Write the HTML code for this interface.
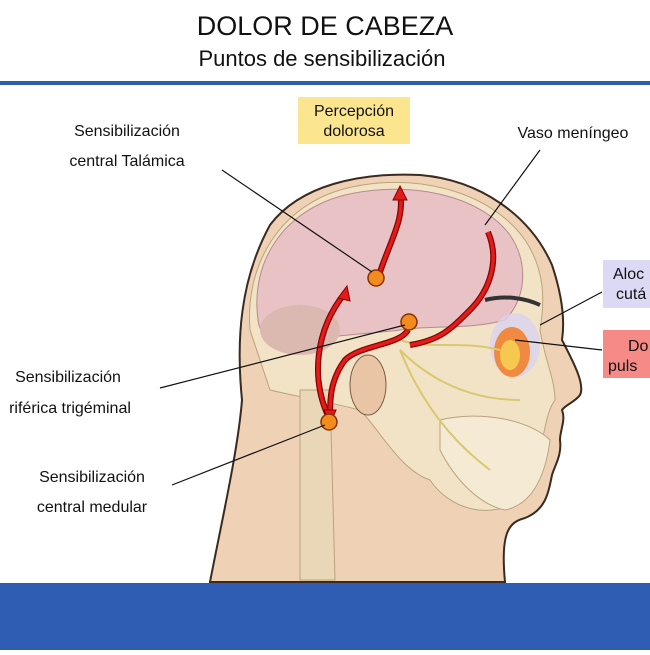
<!DOCTYPE html>
<html><head><meta charset="utf-8"><style>
body{margin:0;width:650px;height:650px;background:#fff;overflow:hidden;font-family:"Liberation Sans",sans-serif}
</style></head><body>
<svg width="650" height="650" viewBox="0 0 650 650" xmlns="http://www.w3.org/2000/svg" font-family="Liberation Sans, sans-serif">
<text x="325" y="35" text-anchor="middle" font-size="27" fill="#111">DOLOR DE CABEZA</text>
<text x="322" y="66" text-anchor="middle" font-size="22" fill="#111">Puntos de sensibilización</text>
<rect x="0" y="81" width="650" height="4" fill="#2f5eb0"/>
<!-- head -->
<path d="M210,582 C222,520 238,450 242,400 C236,340 240,280 270,225 C300,185 360,172 420,175 C480,180 530,215 552,265 C562,295 565,320 562,340 C575,365 585,385 580,395 C575,402 565,405 562,410 C566,420 560,430 560,440 C562,455 555,465 552,475 C548,495 545,510 525,518 C510,522 500,530 505,582 Z" fill="#efd2b6" stroke="#3a2a20" stroke-width="2"/>
<!-- skull -->
<path d="M250,330 C245,270 275,210 340,190 C410,170 490,190 525,240 C545,270 545,300 540,330 C545,360 555,380 555,400 C540,420 545,470 520,500 C490,520 450,510 430,480 C400,470 380,430 360,410 C320,400 290,395 270,390 Z" fill="#f3e3c6" stroke="#b9a37c" stroke-width="1"/>
<!-- brain -->
<path d="M258,320 C250,260 285,210 345,195 C410,180 480,195 510,235 C530,265 525,300 505,320 C470,330 430,325 400,330 C360,335 320,335 290,345 C270,345 260,335 258,320 Z" fill="#e8c2c4" stroke="#b58a90" stroke-width="1"/>
<ellipse cx="300" cy="330" rx="40" ry="25" fill="#dcb9b0"/>
<!-- spine -->
<path d="M300,390 L330,390 L335,580 L300,580 Z" fill="#e9d7b8" stroke="#b9a37c"/>
<!-- ear -->
<ellipse cx="368" cy="385" rx="18" ry="30" fill="#e9c5a6" stroke="#7a5a45"/>
<!-- jaw/teeth -->
<path d="M440,420 C480,410 530,420 550,440 C545,480 530,505 505,510 C480,505 455,480 440,450 Z" fill="#f5ead3" stroke="#b9a37c"/>
<!-- eye region -->
<ellipse cx="515" cy="345" rx="25" ry="32" fill="#d9d2f0" opacity="0.8"/>
<ellipse cx="512" cy="352" rx="18" ry="25" fill="#f08a40"/>
<ellipse cx="510" cy="355" rx="10" ry="15" fill="#f5c850"/>
<path d="M485,300 C505,295 525,298 540,305" stroke="#333" stroke-width="4" fill="none"/>
<!-- nerves -->
<g stroke="#d8c870" stroke-width="2" fill="none">
<path d="M400,340 C430,350 460,340 500,350"/><path d="M400,350 C430,380 470,400 520,400"/><path d="M400,350 C420,400 450,440 490,470"/>
</g>
<!-- red pathways -->
<g stroke="#8a0000" stroke-width="6" fill="none"><path d="M378,278 C390,240 405,220 400,192"/><path d="M330,420 C310,380 315,330 345,293"/><path d="M408,330 C400,345 360,345 345,360 C330,380 330,400 330,415"/><path d="M410,345 C440,340 450,330 470,310 C490,290 500,260 488,232"/></g>
<g stroke="#e21b1b" stroke-width="3.5" fill="none"><path d="M378,278 C390,240 405,220 400,192"/><path d="M330,420 C310,380 315,330 345,293"/><path d="M408,330 C400,345 360,345 345,360 C330,380 330,400 330,415"/><path d="M410,345 C440,340 450,330 470,310 C490,290 500,260 488,232"/></g>
<path d="M393,200 L400,186 L407,200Z M338,298 L347,286 L350,301Z M324,410 L330,424 L336,410Z" fill="#e21b1b" stroke="#8a0000"/>
<g fill="#f28c1e" stroke="#8a3000" stroke-width="1.5"><circle cx="376" cy="278" r="8"/><circle cx="409" cy="322" r="8"/><circle cx="329" cy="422" r="8"/></g>
<!-- leader lines -->
<g stroke="#111" stroke-width="1.2"><line x1="222" y1="170" x2="372" y2="272"/><line x1="160" y1="388" x2="405" y2="325"/><line x1="172" y1="485" x2="325" y2="425"/><line x1="540" y1="150" x2="485" y2="225"/><line x1="602" y1="292" x2="540" y2="325"/><line x1="602" y1="350" x2="515" y2="340"/></g>
<!-- labels -->
<rect x="298" y="97" width="112" height="47" fill="#fbe68f"/>
<text x="354" y="116" text-anchor="middle" font-size="16" fill="#111">Percepción</text>
<text x="354" y="136" text-anchor="middle" font-size="16" fill="#111">dolorosa</text>
<text x="127" y="136" text-anchor="middle" font-size="16" fill="#111">Sensibilización</text>
<text x="127" y="166" text-anchor="middle" font-size="16" fill="#111">central Talámica</text>
<text x="573" y="138" text-anchor="middle" font-size="16" fill="#111">Vaso meníngeo</text>
<text x="68" y="382" text-anchor="middle" font-size="16" fill="#111">Sensibilización</text>
<text x="70" y="413" text-anchor="middle" font-size="16" fill="#111">riférica trigéminal</text>
<text x="92" y="482" text-anchor="middle" font-size="16" fill="#111">Sensibilización</text>
<text x="92" y="512" text-anchor="middle" font-size="16" fill="#111">central medular</text>
<rect x="603" y="260" width="60" height="48" fill="#dcd9f4"/>
<text x="613" y="279" font-size="16" fill="#111">Aloc</text><text x="616" y="299" font-size="16" fill="#111">cutá</text>
<rect x="603" y="330" width="60" height="48" fill="#f58a86"/>
<text x="628" y="351" font-size="16" fill="#111">Do</text><text x="608" y="371" font-size="16" fill="#111">puls</text>
<rect x="0" y="583" width="650" height="67" fill="#2e5db3"/>
</svg>
</body></html>
